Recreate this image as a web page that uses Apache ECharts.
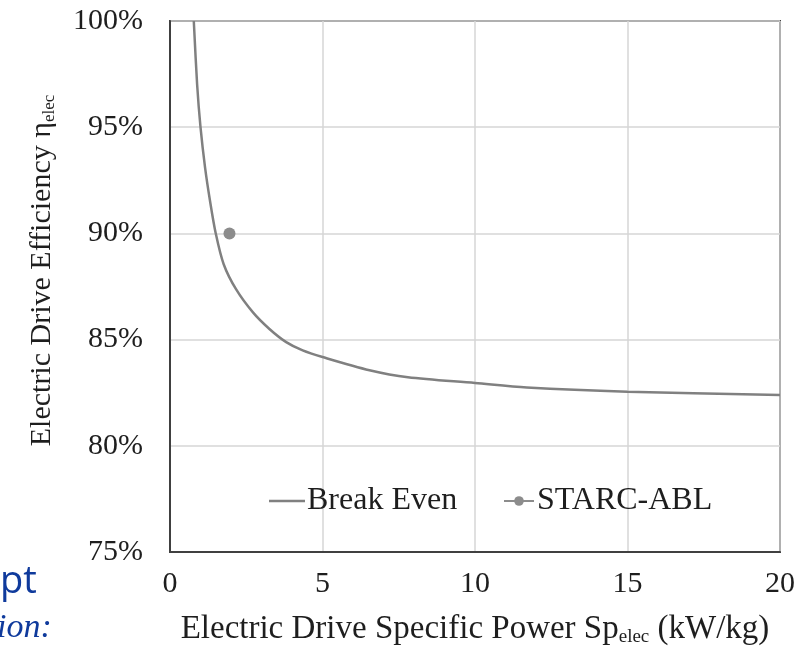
<!DOCTYPE html>
<html><head><meta charset="utf-8">
<script src="https://cdn.jsdelivr.net/npm/echarts@6/dist/echarts.min.js"></script>
<style>html,body{margin:0;padding:0;background:#fff}#c{width:805px;height:650px}</style>
</head><body><div id="c"></div>
<script>
const breakEvenX = [0.78, 0.89, 1.0, 1.15, 1.31, 1.50, 1.76, 2.17, 2.72, 3.26, 3.81, 4.35, 5.0, 6.54, 7.8, 10, 11.7, 15, 20];
const breakEvenY = [1.00, 0.970, 0.950, 0.931, 0.9155, 0.900, 0.8855, 0.8736, 0.8628, 0.855, 0.8488, 0.8449, 0.8418, 0.8356, 0.8323, 0.8296, 0.8275, 0.8255, 0.8239];
const starcX = [1.95];
const starcY = [0.90];
const xTicks = [0, 5, 10, 15, 20];
const yTicks = [0.75, 0.80, 0.85, 0.90, 0.95, 1.00];

const serif = '"Liberation Serif","Times New Roman",serif';
const txt = '#1e1e1e';
const chart = echarts.init(document.getElementById('c'));
chart.setOption({
  animation: false,
  grid: {left: 170, right: 25, top: 21, bottom: 98, outerBoundsMode: 'none', containLabel: false,
    show: true, borderColor: '#404040', borderWidth: 2},
  legend: [
    {left: 264, top: 480, itemWidth: 36, itemHeight: 2.5, itemGap: 0,
      textStyle: {fontFamily: serif, fontSize: 32, color: txt, padding: [0, 0, 0, -3]},
      data: [{name: 'Break Even', icon: 'rect'}]},
    {left: 498, top: 480, itemWidth: 30, itemHeight: 12,
      textStyle: {fontFamily: serif, fontSize: 32, color: txt, padding: [0, 0, 0, -2]},
      data: ['STARC-ABL']}
  ],
  xAxis: {
    type: 'value', min: xTicks[0], max: xTicks[xTicks.length - 1], interval: 5,
    axisLine: {show: true, lineStyle: {color: '#404040', width: 2}},
    axisTick: {show: false},
    splitLine: {show: true, lineStyle: {color: '#d6d6d6', width: 1.5}},
    axisLabel: {fontFamily: serif, fontSize: 30, color: txt, margin: 17},
    name: 'Electric Drive Specific Power Sp{s|elec} (kW/kg)',
    nameLocation: 'middle', nameGap: 60,
    nameTextStyle: {fontFamily: serif, fontSize: 33, color: txt,
      rich: {s: {fontFamily: serif, fontSize: 19, color: txt, verticalAlign: 'bottom', padding: [16, 0, 0, 0]}}}
  },
  yAxis: {
    type: 'value', min: yTicks[0], max: yTicks[yTicks.length - 1], interval: 0.05,
    axisLine: {show: true, lineStyle: {color: '#404040', width: 2}},
    axisTick: {show: false},
    splitLine: {show: true, lineStyle: {color: '#d6d6d6', width: 1.5}},
    axisLabel: {fontFamily: serif, fontSize: 30, color: txt, margin: 27,
      formatter: v => Math.round(v * 100) + '%'},
    name: 'Electric Drive Efficiency η{s|elec}',
    nameLocation: 'middle', nameGap: 112, nameRotate: 90,
    nameTextStyle: {fontFamily: serif, fontSize: 30, color: txt, padding: [0, 0, 0, 32],
      rich: {s: {fontFamily: serif, fontSize: 17, color: txt, verticalAlign: 'bottom', padding: [14, 0, 0, 0]}}}
  },
  series: [
    {
      name: 'Break Even', type: 'line', smooth: 0.3, symbol: 'none',
      lineStyle: {color: '#808080', width: 2.5}, itemStyle: {color: '#808080'},
      data: breakEvenX.map((x, i) => [x, breakEvenY[i]])
    },
    {
      name: 'STARC-ABL', type: 'line', symbol: 'circle', symbolSize: 12,
      lineStyle: {color: '#8c8c8c', width: 2}, itemStyle: {color: '#8c8c8c'},
      data: starcX.map((x, i) => [x, starcY[i]])
    }
  ],
  graphic: [
    {type: 'text', left: 0, top: 563, style: {text: 'pt', font: '38px "Open Sans", sans-serif', fill: '#0f3a9c'}},
    {type: 'text', left: -3, top: 611, style: {text: 'ion:', font: 'italic 34px "Liberation Serif", serif', fill: '#0f3a9c'}}
  ]
});
</script></body></html>
